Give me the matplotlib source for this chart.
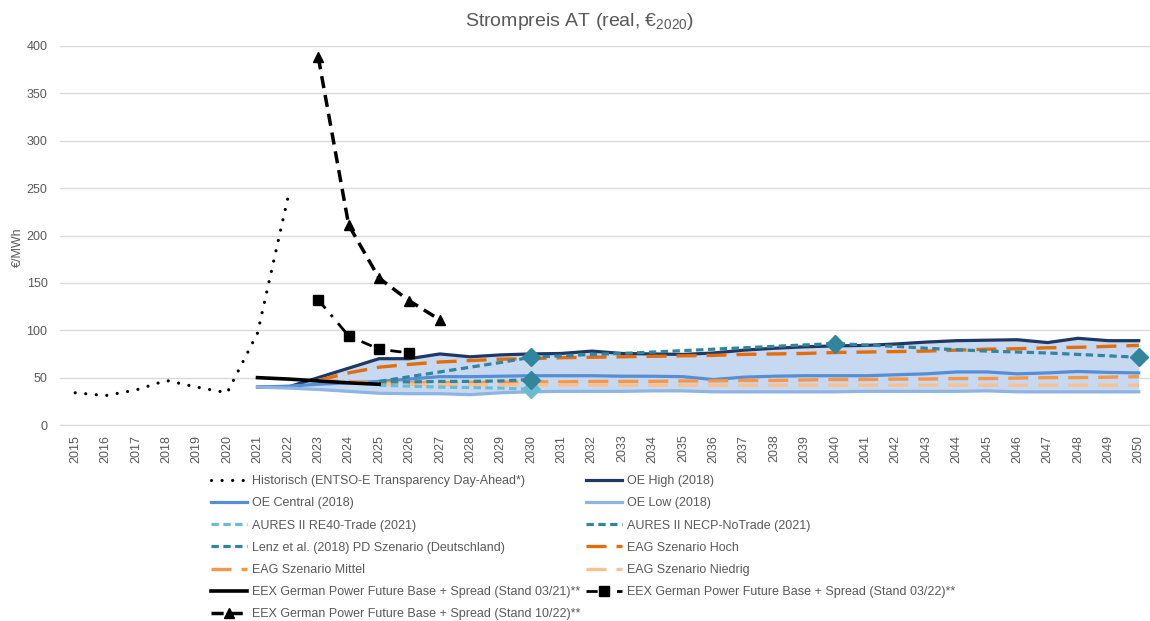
import numpy as np
import matplotlib
matplotlib.use('Agg')
from matplotlib import pyplot as plt, rcParams

rcParams['font.family'] = ['Liberation Sans', 'DejaVu Sans']
rcParams['font.size'] = 9

# Data (€/MWh)

years = list(range(2015, 2051))

hist_years = list(range(2015, 2023))
hist = [34, 31, 37, 47, 40, 34, 97, 240]

oe_years = list(range(2021, 2051))
oe_high = [40, 40, 50, 60, 70, 70, 75, 72, 74, 75, 75.5, 78, 75.5, 75, 74.5, 76, 79, 81, 82.5, 83.5,
           84, 85.5, 87.5, 89, 89.5, 90, 87, 91.5, 89, 89]
oe_central = [40, 41, 43, 44.5, 46, 48.5, 51, 51, 51.5, 52, 52, 52, 51.5, 51.5, 51, 48, 50.5, 51.5, 52, 52,
              52, 53, 54, 56, 56, 54, 55, 56.5, 55.5, 55]
oe_low = [40, 39, 37.5, 35.5, 33.5, 33, 33, 32, 34, 35, 35.5, 35.5, 35.5, 36, 36, 35, 35, 35, 35, 35,
          35.5, 35.5, 35.5, 35.5, 36, 35, 35, 35, 35, 35]

aures_years = list(range(2025, 2031))
aures_re40 = [42, 41, 40, 39.5, 39, 37.5]
aures_necp = [45.5, 45.5, 46, 46, 46.5, 48]

lenz_years = list(range(2025, 2051))
lenz = [46, 51, 56, 61, 66, 71.5, 73, 74.5, 75.5, 77, 78.5, 80, 81.5, 83, 84.5, 86,
        84.5, 83, 81, 79.5, 78, 77, 76, 74.5, 73, 71.5]
lenz_marker_years = [2030, 2040, 2050]

eag_years = list(range(2023, 2051))
eag_hoch = [47, 55, 61, 64, 66.5, 68, 69.5, 70, 71, 71.5, 72, 72.5, 73, 73.5, 74.5, 75, 75.5, 76.5,
            77, 77.5, 78, 79, 80, 80.5, 81.5, 82, 83, 84]
eag_mittel = [47, 46, 44.5, 44.5, 44.5, 45, 45, 45.5, 45.5, 46, 46, 46, 46.5, 46.5, 47, 47, 47.5, 48,
              48, 48.5, 48.5, 49, 49, 49.5, 50, 50, 50.5, 51]
eag_niedrig = [47, 45, 43, 43, 42.5, 42.5, 42.5, 42.5, 42.5, 42, 42, 42, 42, 42, 42, 42, 42, 42,
               42, 42, 42, 42, 42, 42, 42, 42, 42, 42]

eex21_years = list(range(2021, 2026))
eex21 = [50, 48.5, 46.5, 44.5, 43]
eex22_03_years = list(range(2023, 2027))
eex22_03 = [132, 94, 80, 76]
eex22_10_years = list(range(2023, 2028))
eex22_10 = [388, 211, 155, 131, 111]

labels = {
    'hist': 'Historisch (ENTSO-E Transparency Day-Ahead*)',
    'high': 'OE High (2018)',
    'central': 'OE Central (2018)',
    'low': 'OE Low (2018)',
    're40': 'AURES II RE40-Trade (2021)',
    'necp': 'AURES II NECP-NoTrade (2021)',
    'lenz': 'Lenz et al. (2018) PD Szenario (Deutschland)',
    'hoch': 'EAG Szenario Hoch',
    'mittel': 'EAG Szenario Mittel',
    'niedrig': 'EAG Szenario Niedrig',
    'eex21': 'EEX German Power Future Base + Spread (Stand 03/21)**',
    'eex22_03': 'EEX German Power Future Base + Spread (Stand 03/22)**',
    'eex22_10': 'EEX German Power Future Base + Spread (Stand 10/22)**',
}


def pos(ys):
    return [y - 2015 for y in ys]


# Figure

fig = plt.figure(figsize=(11.5, 6.21), dpi=100)
ax = fig.add_axes([60 / 1150, 1 - 425 / 621, 1 - 60 / 1150, (425 - 46) / 621])

ax.fill_between(pos(oe_years), oe_low, oe_high, color='#C6D9F1', lw=0, zorder=1)

h = {}
h['hist'], = ax.plot(pos(hist_years), hist, color='black', lw=2.3, ls=(0, (0.01, 3.3)),
                     dash_capstyle='round', zorder=5)
h['high'], = ax.plot(pos(oe_years), oe_high, color='#1F3864', lw=2.3, zorder=3)
h['central'], = ax.plot(pos(oe_years), oe_central, color='#558ED5', lw=2.3, zorder=3)
h['low'], = ax.plot(pos(oe_years), oe_low, color='#8DB4E2', lw=2.3, zorder=3)

h['hoch'], = ax.plot(pos(eag_years), eag_hoch, color='#E46C0A', lw=2.4, ls=(0, (6, 3)), zorder=4)
h['mittel'], = ax.plot(pos(eag_years), eag_mittel, color='#F79646', lw=2.4, ls=(0, (6, 3)), zorder=4)
h['niedrig'], = ax.plot(pos(eag_years), eag_niedrig, color='#FAC090', lw=2.4, ls=(0, (6, 3)), zorder=4)

h['re40'], = ax.plot(pos(aures_years), aures_re40, color='#6BBCD1', lw=2.3, ls=(0, (2.3, 1.4)), zorder=4)
h['necp'], = ax.plot(pos(aures_years), aures_necp, color='#31859C', lw=2.3, ls=(0, (2.3, 1.4)), zorder=4)
h['lenz'], = ax.plot(pos(lenz_years), lenz, color='#31859C', lw=2.3, ls=(0, (2.3, 1.4)), zorder=4)

ax.plot(pos([2030]), aures_re40[-1:], ls='none', marker='D', ms=9.5, color='#6BBCD1', zorder=6)
ax.plot(pos([2030]), aures_necp[-1:], ls='none', marker='D', ms=9.5, color='#31859C', zorder=6)
ax.plot(pos(lenz_marker_years), [lenz[lenz_years.index(y)] for y in lenz_marker_years],
        ls='none', marker='D', ms=9.5, color='#31859C', zorder=6)

h['eex21'], = ax.plot(pos(eex21_years), eex21, color='black', lw=2.6, zorder=5)
h['eex22_03'], = ax.plot(pos(eex22_03_years), eex22_03, color='black', lw=2, ls=(0, (4, 3, 1, 3)),
                         marker='s', ms=7, zorder=5)
h['eex22_10'], = ax.plot(pos(eex22_10_years), eex22_10, color='black', lw=2.5, ls=(0, (3.5, 2)),
                         marker='^', ms=6.5, zorder=5)

# Axes styling

ax.set_xlim(-0.5, 35.37)
ax.set_ylim(0, 400)
ax.set_yticks(np.arange(0, 401, 50))
ax.set_xticks(range(len(years)))
ax.set_xticklabels([str(y) for y in years], rotation=90)
ax.tick_params(axis='both', length=0, colors='#595959', labelsize=9)
ax.tick_params(axis='x', pad=7)
ax.tick_params(axis='y', pad=9)
for s in ('top', 'right', 'left'):
    ax.spines[s].set_visible(False)
ax.spines['bottom'].set_color('#D9D9D9')
ax.yaxis.grid(True, color='#D9D9D9', lw=1)
ax.set_axisbelow(True)

fig.text(18 / 1150, 1 - 247 / 621, '€/MWh', rotation=90, ha='center', va='center',
         color='#595959', fontsize=9)
fig.text(580 / 1150, 1 - 21 / 621, 'Strompreis AT (real, €$_\\mathregular{2020}$)', ha='center',
         va='center', color='#595959', fontsize=14)

col1 = ['hist', 'central', 're40', 'lenz', 'mittel', 'eex21', 'eex22_10']
col2 = ['high', 'low', 'necp', 'hoch', 'niedrig', 'eex22_03']
order = col1 + col2
leg = fig.legend([h[k] for k in order], [labels[k] for k in order], ncol=2, frameon=False,
                 loc='upper left', bbox_to_anchor=(211 / 1150, 1 - 475 / 621), borderpad=0,
                 borderaxespad=0, handlelength=2.9, handletextpad=0.4, columnspacing=0.4,
                 labelspacing=0.82, fontsize=9, numpoints=1)
for t in leg.get_texts():
    t.set_color('#595959')

fig.savefig('out.png', dpi=100)
